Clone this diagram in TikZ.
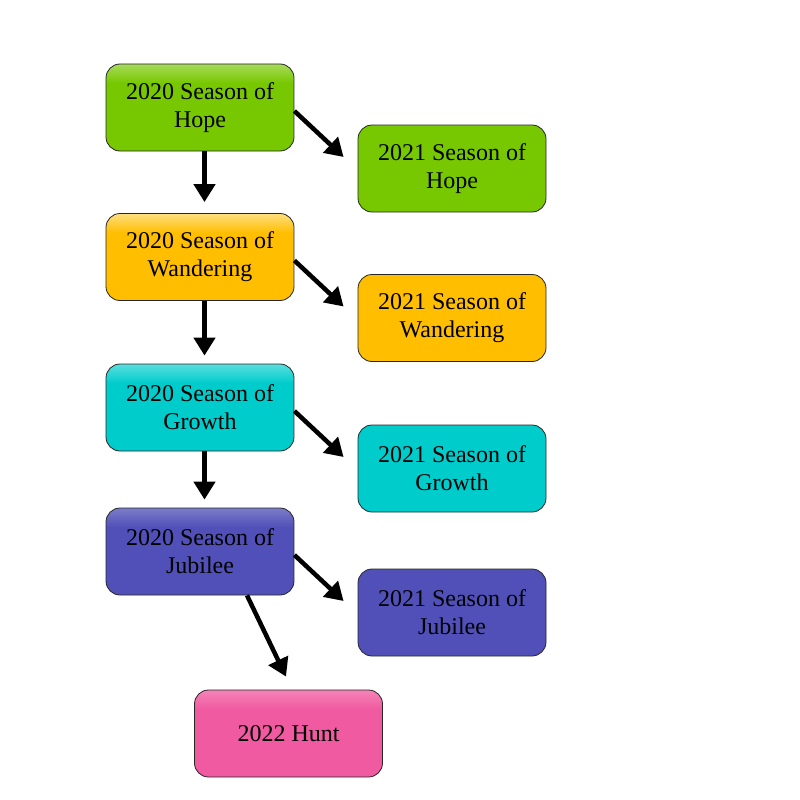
\documentclass[tikz,border=0pt]{standalone}
\usepackage{fontspec}
\setmainfont{Liberation Serif}
\usetikzlibrary{arrows.meta}

\definecolor{hopegreen}{RGB}{119,200,0}
\definecolor{wanderorange}{RGB}{255,190,0}
\definecolor{growthcyan}{RGB}{0,204,204}
\definecolor{jubileeblue}{RGB}{80,80,184}
\definecolor{huntpink}{RGB}{240,90,160}

\pgfdeclareverticalshading{hopeshade}{100bp}{color(0bp)=(hopegreen); color(64bp)=(hopegreen); color(75bp)=(hopegreen!65!white); color(100bp)=(hopegreen!65!white)}
\pgfdeclareverticalshading{wandershade}{100bp}{color(0bp)=(wanderorange); color(64bp)=(wanderorange); color(75bp)=(wanderorange!50!white); color(100bp)=(wanderorange!50!white)}
\pgfdeclareverticalshading{growthshade}{100bp}{color(0bp)=(growthcyan); color(64bp)=(growthcyan); color(75bp)=(growthcyan!65!white); color(100bp)=(growthcyan!65!white)}
\pgfdeclareverticalshading{jubileeshade}{100bp}{color(0bp)=(jubileeblue); color(64bp)=(jubileeblue); color(75bp)=(jubileeblue!75!white); color(100bp)=(jubileeblue!75!white)}
\pgfdeclareverticalshading{huntshade}{100bp}{color(0bp)=(huntpink); color(64bp)=(huntpink); color(75bp)=(huntpink!75!white); color(100bp)=(huntpink!75!white)}

\begin{document}
\begin{tikzpicture}[x=1pt,y=-1pt,
  season/.style={draw=black!85, line width=0.8pt, rounded corners=14pt,
    minimum width=188pt, minimum height=87pt, inner sep=0pt, align=center,
    font=\fontsize{24}{28}\selectfont},
  flow/.style={-{Triangle[width=21pt,length=18pt]}, line width=4.5pt, black}]
  \useasboundingbox (0,0) rectangle (800,800);

  \node[season, shading=hopeshade] (hope20) at (200,107.5) {2020 Season of\\Hope};
  \node[season, shading=wandershade] (wander20) at (200,257) {2020 Season of\\Wandering};
  \node[season, shading=growthshade] (growth20) at (200,407.5) {2020 Season of\\Growth};
  \node[season, shading=jubileeshade] (jubilee20) at (200,551.5) {2020 Season of\\Jubilee};

  \node[season, fill=hopegreen] (hope21) at (452,168.5) {2021 Season of\\Hope};
  \node[season, fill=wanderorange] (wander21) at (452,318) {2021 Season of\\Wandering};
  \node[season, fill=growthcyan] (growth21) at (452,468.5) {2021 Season of\\Growth};
  \node[season, fill=jubileeblue] (jubilee21) at (452,612.5) {2021 Season of\\Jubilee};

  \node[season, shading=huntshade] (hunt22) at (288.5,733.5) {2022 Hunt};

  \draw[flow] ([xshift=4.5pt]hope20.south) -- ([xshift=4.5pt,yshift=11pt]wander20.north);
  \draw[flow] ([xshift=4.5pt]wander20.south) -- ([xshift=4.5pt,yshift=8pt]growth20.north);
  \draw[flow] ([xshift=4.5pt]growth20.south) -- ([xshift=4.5pt,yshift=8pt]jubilee20.north);

  \draw[flow] ([yshift=-3.5pt]hope20.east) -- ([xshift=-14pt,yshift=11.5pt]hope21.west);
  \draw[flow] ([yshift=-3.5pt]wander20.east) -- ([xshift=-14pt,yshift=11.5pt]wander21.west);
  \draw[flow] ([yshift=-3.5pt]growth20.east) -- ([xshift=-14pt,yshift=11.5pt]growth21.west);
  \draw[flow] ([yshift=-3.5pt]jubilee20.east) -- ([xshift=-14pt,yshift=11.5pt]jubilee21.west);

  \draw[flow] ([xshift=47pt]jubilee20.south) -- ([xshift=-2.5pt,yshift=13pt]hunt22.north);
\end{tikzpicture}
\end{document}
